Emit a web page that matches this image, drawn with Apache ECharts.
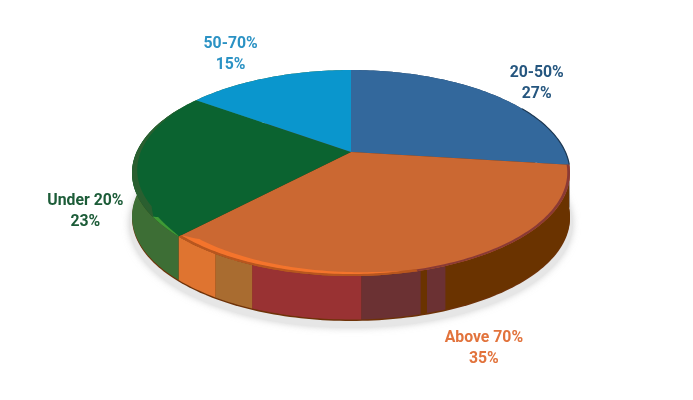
<!DOCTYPE html>
<html>
<head>
<meta charset="utf-8">
<style>html,body{margin:0;padding:0;background:#fff}#chart{width:693px;height:400px}</style>
<script src="https://cdn.jsdelivr.net/npm/echarts@6/dist/echarts.min.js"></script>
</head>
<body>
<div id="chart"></div>
<script>
// Data, clockwise from twelve o'clock
var categories = ['20-50%', 'Above 70%', 'Under 20%', '50-70%'];
var values = [27, 35, 23, 15];
var topColors = ['#33689c', '#cb6832', '#0b6330', '#0a96cd'];
var labelColors = ['#25567f', '#e2733c', '#1c5c38', '#2b92c4'];

// Wall colouring: each band's end, as percent of the way round
var bandEnds = [27, 44.2, 45.4, 45.8, 49.4, 56.1, 58.75, 62, 85, 100];
var bandColors = ['#1f3a55', '#6a3300', '#6b3133', '#6a3300', '#6b3133', '#993233', '#a96c30', '#df7430', '#3d6e35', '#3d6e35'];

// Projection of the disc
var CX = 351, CY = 152, AX = 214.4, AY = 98.7, K = 0.204, DEPTH = 45;
function pt(pct, rho, dy) {
  var t = pct / 100 * 2 * Math.PI;
  var X = rho * Math.sin(t), Y = -rho * Math.cos(t), w = 1 - K * Y;
  return [CX + AX * X / w, CY + AY * Y / w + (dy || 0)];
}
function arc(from, to, rho, dy) {
  var n = Math.max(2, Math.ceil(Math.abs(to - from) * 3)), out = [];
  for (var i = 0; i <= n; i++) out.push(pt(from + (to - from) * i / n, rho, dy));
  return out;
}
function poly(points, fill, extra) {
  var style = { fill: fill };
  for (var k in (extra || {})) style[k] = extra[k];
  return { type: 'polygon', shape: { points: points }, style: style };
}
function cum(i) {
  var s = 0;
  for (var j = 0; j < i; j++) s += values[j];
  return s;
}
function taperStrip(from, to, outer, width) {
  var n = 60, a = [], b = [];
  for (var i = 0; i <= n; i++) {
    var f = i / n, p = from + (to - from) * f;
    var shape = Math.min(1, f * 12) * Math.pow(1 - f, 0.55);
    a.push(pt(p, outer));
    b.push(pt(p, outer - width * shape));
  }
  return a.concat(b.reverse());
}

function renderBase() {
  var children = [];
  children.push(poly(arc(0, 100, 1.012, DEPTH + 5), '#e6e6e6', { shadowBlur: 7, shadowColor: 'rgba(170,170,170,0.55)' }));
  children.push(poly(arc(0, 100, 1, DEPTH), '#6e3208'));
  return { type: 'group', children: children };
}
function renderBand(params) {
  var i = params.dataIndex, from = i ? bandEnds[i - 1] : 0, to = bandEnds[i];
  return poly(arc(from, to, 1, 0).concat(arc(to, from, 1, DEPTH - 1.5)), bandColors[i]);
}
function renderTop(params, api) {
  var i = params.dataIndex, from = cum(i), to = from + api.value(0);
  return poly([[CX, CY]].concat(arc(from, to, 1, 0)), topColors[i]);
}
function renderAccents() {
  var c = [];
  var s1 = cum(1), s2 = cum(2), s3 = cum(3);
  // dark edge on the blue slice
  c.push({ type: 'polyline', shape: { points: arc(17, 27, 1, 0) }, style: { fill: null, stroke: '#1f3a55', lineWidth: 1.2 } });
  // dark red wall edge on the right of the orange slice
  c.push(poly(arc(s1, 46.5, 1, 0).concat(arc(46.5, s1, 0.988, 0)), '#8a3a35'));
  // olive edge on the left of the green slice
  c.push(poly(taperStrip(s2 + 3, s3 - 2, 1, 0.03), '#2a5f30'));
  // darker rim and bright highlight on the front of the orange slice
  c.push(poly(arc(46, s2, 1, 0).concat(arc(s2, 46, 0.985, 0)), '#b8561e'));
  c.push(poly(taperStrip(s2, 47, 0.987, 0.03), '#f4742c'));
  // green highlight
  c.push(poly(taperStrip(s2 + 3.2, s2, 1, 0.018), '#3f9a35'));
  return { type: 'group', children: c };
}
var labelOffsets = [[44, -11], [43, 81.5], [-48, 50], [-38, -23.5]];
function renderLabel(params, api) {
  var i = params.dataIndex, from = cum(i), mid = from + api.value(0) / 2;
  var a = pt(mid, 1), o = labelOffsets[i];
  return {
    type: 'text',
    style: {
      x: a[0] + o[0], y: a[1] + o[1],
      text: categories[i] + '\n' + api.value(0) + '%',
      fill: labelColors[i], align: 'center', verticalAlign: 'middle',
      font: '700 15.8px Roboto', lineHeight: 21
    }
  };
}
function layer(data, render, z) {
  return { type: 'custom', coordinateSystem: 'none', data: data, renderItem: render, z: z, silent: true, animation: false, clip: false };
}
var chart = echarts.init(document.getElementById('chart'), null, { renderer: 'canvas' });
chart.setOption({
  backgroundColor: '#ffffff',
  animation: false,
  series: [
    layer([0], renderBase, 1),
    layer(bandEnds, renderBand, 2),
    layer(values, renderTop, 3),
    layer([0], renderAccents, 4),
    layer(values, renderLabel, 5)
  ]
});
</script>
</body>
</html>
